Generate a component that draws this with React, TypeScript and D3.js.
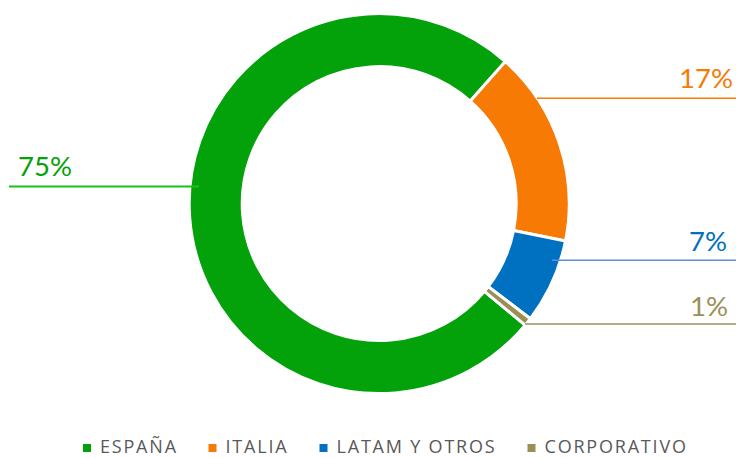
import React from "react";
import * as d3 from "d3";

const categories = ["ESPAÑA", "ITALIA", "LATAM Y OTROS", "CORPORATIVO"];
const values = [75.5, 16.6, 7.2, 0.7];
const labels = ["75%", "17%", "7%", "1%"];
const colors = ["#03a10a", "#f67a03", "#0070c0", "#9b8f56"];
const lineColors = ["#1cbf1c", "#f67a03", "#5a8fd2", "#9b8f5c"];

const W = 736;
const H = 458;
const cx = 379.2;
const cy = 203.6;
const rOuter = 190;
const rInner = 137;

// label layout (annotation positions)
const labelLayout = [
  { lineY: 186.5, x0: 9, x1: 199, tx: 18, ty: 176, anchor: "start" },
  { lineY: 98.3, x0: 537, x1: 736, tx: 706, ty: 88, anchor: "middle" },
  { lineY: 260.3, x0: 552, x1: 736, tx: 708, ty: 250.7, anchor: "middle" },
  { lineY: 324, x0: 525, x1: 736, tx: 709, ty: 315.7, anchor: "middle" },
];

const legendLayout = [
  { sx: 83, tx: 100 },
  { sx: 208.5, tx: 225.5 },
  { sx: 319.5, tx: 336.5 },
  { sx: 527.5, tx: 544.5 },
];

export default function App() {
  const total = d3.sum(values);
  const italiaStartDeg = 41.6;
  const start = (italiaStartDeg * Math.PI) / 180 - (values[0] / total) * 2 * Math.PI;
  const pie = d3
    .pie<number>()
    .sort(null)
    .value((d) => d)
    .startAngle(start)
    .endAngle(start + 2 * Math.PI);
  const arcs = pie(values);
  const arc = d3.arc<d3.PieArcDatum<number>>().innerRadius(rInner).outerRadius(rOuter);

  return (
    <svg
      width={W}
      height={H}
      style={{ position: "absolute", left: 0, top: 0, background: "#fff" }}
    >
      <g transform={`translate(${cx},${cy})`}>
        {arcs.map((a, i) => (
          <path key={i} d={arc(a) || ""} fill={colors[i]} stroke="#fff" strokeWidth={3} />
        ))}
      </g>
      {labelLayout.map((l, i) => (
        <g key={i}>
          <line
            x1={l.x0}
            x2={l.x1}
            y1={l.lineY}
            y2={l.lineY}
            stroke={lineColors[i]}
            strokeWidth={i === 0 ? 2 : 1.6}
          />
          <text
            x={l.tx}
            y={l.ty}
            textAnchor={l.anchor as any}
            fill={colors[i]}
            fontFamily="Lato, 'Open Sans', sans-serif"
            fontSize={27.5}
          >
            {labels[i]}
          </text>
        </g>
      ))}
      {categories.map((c, i) => (
        <g key={c}>
          <rect x={legendLayout[i].sx} y={444} width={8} height={8} fill={colors[i]} />
          <text
            x={legendLayout[i].tx}
            y={452.8}
            fill="#595959"
            fontFamily="'Open Sans', sans-serif"
            fontSize={18}
            letterSpacing={1.8}
          >
            {c}
          </text>
        </g>
      ))}
    </svg>
  );
}
